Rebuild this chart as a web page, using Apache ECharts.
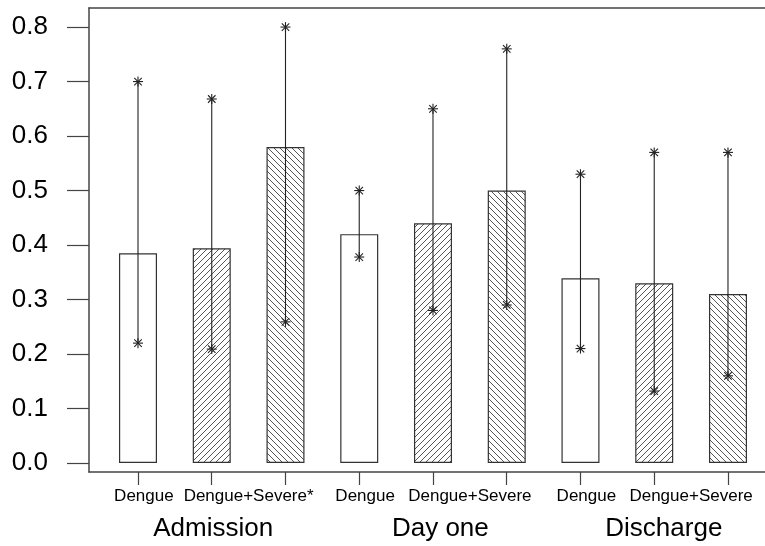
<!DOCTYPE html>
<html>
<head>
<meta charset="utf-8">
<script src="https://cdn.jsdelivr.net/npm/echarts@6/dist/echarts.min.js"></script>
<style>
html,body{margin:0;padding:0;background:#fff;}
#chart{width:765px;height:546px;}
</style>
</head>
<body>
<div id="chart"></div>
<script>
// ---- data ----
const barPos = [1, 2, 3, 4, 5, 6, 7, 8, 9];
const means = [0.385, 0.394, 0.58, 0.42, 0.44, 0.50, 0.339, 0.33, 0.31];
const lows  = [0.22, 0.209, 0.259, 0.378, 0.28, 0.29, 0.21, 0.132, 0.16];
const highs = [0.70, 0.668, 0.80, 0.50, 0.65, 0.76, 0.53, 0.57, 0.57];
const fillKind = ['plain', 'fwd', 'back', 'plain', 'fwd', 'back', 'plain', 'fwd', 'back'];
const barLabels = ['Dengue', 'Dengue+Severe*', 'Dengue', 'Dengue+Severe', 'Dengue', 'Dengue+Severe'];
const barLabelPos = [1.08, 2.5, 4.08, 5.5, 7.08, 8.5];
const groupLabels = ['Admission', 'Day one', 'Discharge'];
const groupPos = [2.02, 5.1, 8.13];
const yTickVals = [0, 0.1, 0.2, 0.3, 0.4, 0.5, 0.6, 0.7, 0.8];
const yTickLabels = ['0.0', '0.1', '0.2', '0.3', '0.4', '0.5', '0.6', '0.7', '0.8'];

// ---- hatch patterns ----
function hatch(dir) {
  const s = 6;
  const c = document.createElement('canvas');
  c.width = s; c.height = s;
  const g = c.getContext('2d');
  g.fillStyle = '#fff';
  g.fillRect(0, 0, s, s);
  g.strokeStyle = '#555';
  g.lineWidth = 1;
  g.beginPath();
  if (dir === 'fwd') {
    g.moveTo(-1, s + 1); g.lineTo(s + 1, -1);
    g.moveTo(-1, 1); g.lineTo(1, -1);
    g.moveTo(s - 1, s + 1); g.lineTo(s + 1, s - 1);
  } else {
    g.moveTo(-1, -1); g.lineTo(s + 1, s + 1);
    g.moveTo(-1, s - 1); g.lineTo(1, s + 1);
    g.moveTo(s - 1, -1); g.lineTo(s + 1, 1);
  }
  g.stroke();
  return { image: c, repeat: 'repeat' };
}
const fills = { plain: '#ffffff', fwd: hatch('fwd'), back: hatch('back') };

const font = "'Liberation Sans', Arial, sans-serif";
const lineCol = '#444';

const chart = echarts.init(document.getElementById('chart'), null, { renderer: 'canvas' });

const barData = barPos.map((x, i) => ({
  value: [x, means[i]],
  itemStyle: { color: fills[fillKind[i]], borderColor: '#333', borderWidth: 1.2 }
}));
const errData = barPos.map((x, i) => [x, lows[i], highs[i]]);

function star(cx, cy, r, style) {
  const d = r * 0.75;
  return [
    { type: 'line', shape: { x1: cx, y1: cy - r, x2: cx, y2: cy + r }, style },
    { type: 'line', shape: { x1: cx - r, y1: cy, x2: cx + r, y2: cy }, style },
    { type: 'line', shape: { x1: cx - d, y1: cy - d, x2: cx + d, y2: cy + d }, style },
    { type: 'line', shape: { x1: cx - d, y1: cy + d, x2: cx + d, y2: cy - d }, style }
  ];
}

const xMin = 0.3356, xMax = 9.502;

chart.setOption({
  animation: false,
  backgroundColor: '#fff',
  grid: { left: 89, right: 0, top: 8, bottom: 74, containLabel: false },
  xAxis: [
    {
      type: 'value', position: 'bottom', min: xMin, max: xMax,
      axisLine: { show: true, onZero: false, lineStyle: { color: lineCol, width: 1.5 } },
      axisTick: { show: true, inside: false, length: 13, customValues: barPos, lineStyle: { color: lineCol, width: 1.2 } },
      axisLabel: {
        show: true, margin: 16, customValues: barLabelPos,
        fontFamily: font, fontSize: 17, color: '#000',
        formatter: v => { const i = barLabelPos.findIndex(p => Math.abs(p - v) < 1e-6); return i >= 0 ? barLabels[i] : ''; }
      },
      splitLine: { show: false }
    },
    {
      type: 'value', position: 'bottom', min: xMin, max: xMax,
      axisLine: { show: false }, axisTick: { show: false }, splitLine: { show: false },
      axisLabel: {
        show: true, margin: 44, customValues: groupPos,
        fontFamily: font, fontSize: 26, color: '#000',
        formatter: v => { const i = groupPos.findIndex(p => Math.abs(p - v) < 1e-6); return i >= 0 ? groupLabels[i] : ''; }
      }
    },
    {
      type: 'value', position: 'top', min: xMin, max: xMax,
      axisLine: { show: true, onZero: false, lineStyle: { color: lineCol, width: 1.5 } },
      axisTick: { show: false }, axisLabel: { show: false }, splitLine: { show: false }
    }
  ],
  yAxis: {
    type: 'value', min: -0.0165, max: 0.835,
    axisLine: { show: true, onZero: false, lineStyle: { color: lineCol, width: 1.5 } },
    axisTick: { show: true, length: 22, customValues: yTickVals, lineStyle: { color: lineCol, width: 1.2 } },
    axisLabel: {
      show: true, margin: 41, customValues: yTickVals,
      fontFamily: font, fontSize: 26, color: '#000',
      formatter: v => { const i = yTickVals.findIndex(p => Math.abs(p - v) < 1e-6); return i >= 0 ? yTickLabels[i] : ''; }
    },
    splitLine: { show: false }
  },
  series: [
    {
      type: 'bar', xAxisIndex: 0, barWidth: 38, data: barData, z: 2
    },
    {
      type: 'custom', xAxisIndex: 0, z: 3,
      encode: { x: 0, y: [1, 2] },
      data: errData,
      renderItem: (params, api) => {
        const x = api.value(0);
        const pLo = api.coord([x, api.value(1)]);
        const pHi = api.coord([x, api.value(2)]);
        const style = { stroke: '#222', lineWidth: 1.1 };
        const children = [
          { type: 'line', shape: { x1: pLo[0], y1: pLo[1], x2: pHi[0], y2: pHi[1] }, style }
        ].concat(star(pLo[0], pLo[1], 5, style), star(pHi[0], pHi[1], 5, style));
        return { type: 'group', children };
      }
    }
  ]
});
</script>
</body>
</html>
